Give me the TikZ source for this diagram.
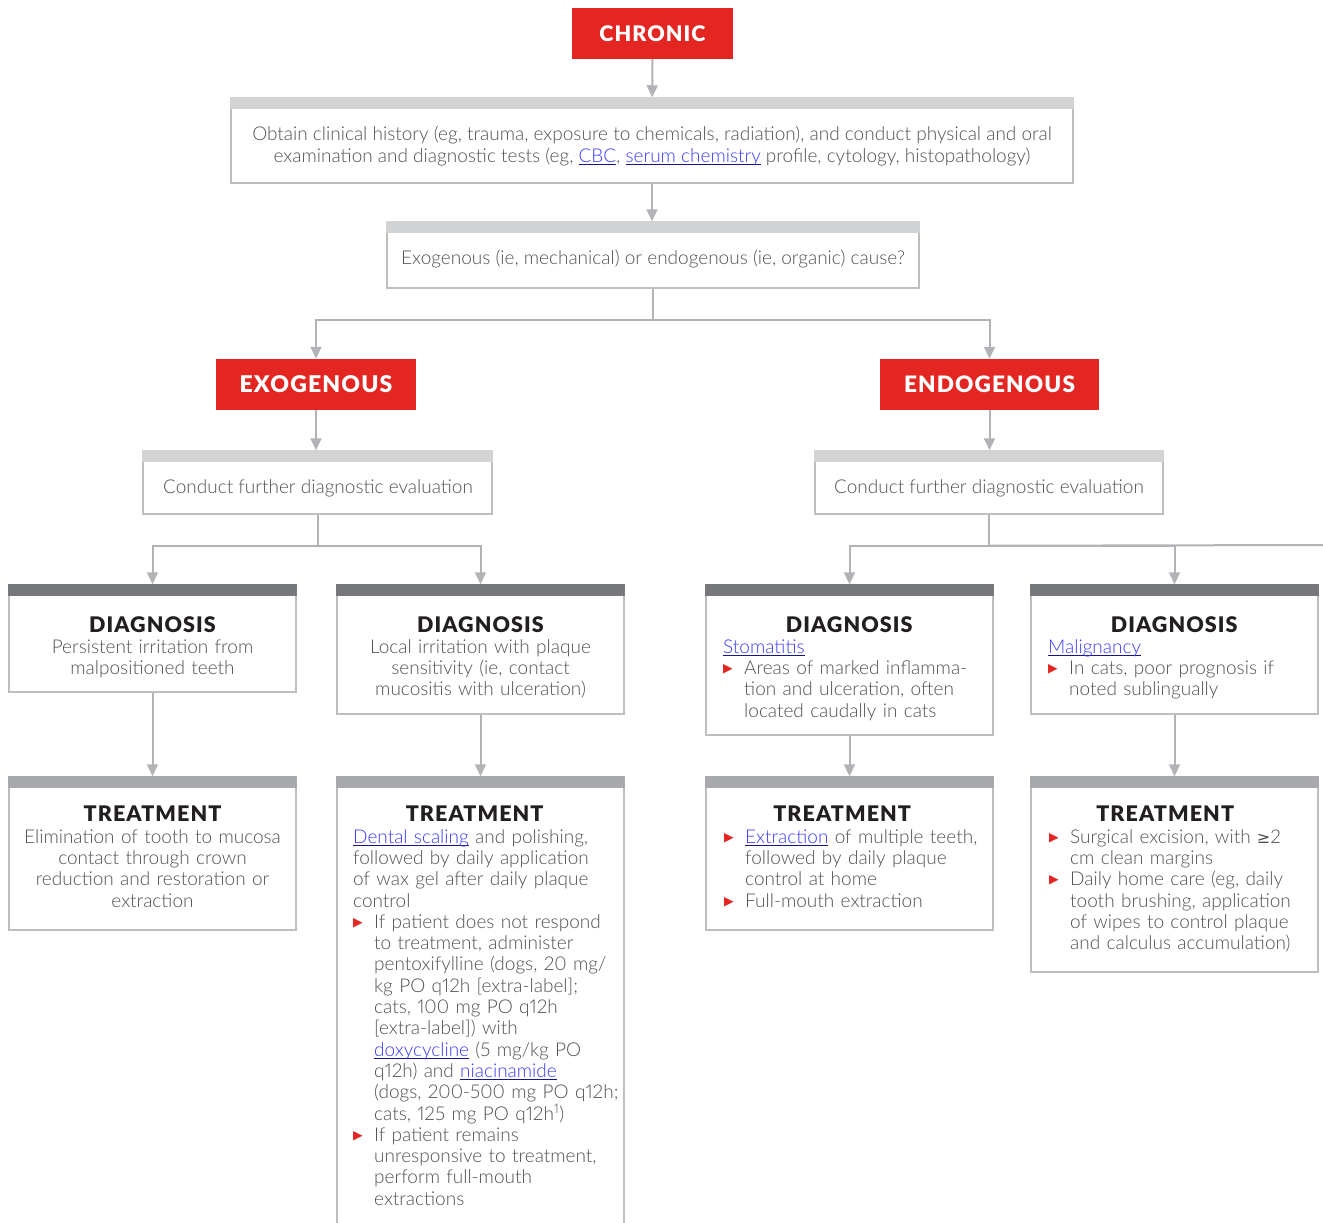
\documentclass[tikz,border=0pt]{standalone}
\usepackage{fontspec}
\usepackage{xcolor}
\usetikzlibrary{arrows.meta}

\IfFontExistsTF{Lato Light}{\setmainfont{Lato Light}[Numbers=Proportional]}{\setmainfont{Lato}[Numbers=Proportional]}
\IfFontExistsTF{Lato Black}{\newfontfamily\headfont{Lato Black}[LetterSpace=5]}{\newfontfamily\headfontX{Lato}[LetterSpace=5]\newcommand\headfont{\headfontX\bfseries}}
\newfontfamily\symfont{DejaVu Sans}

\definecolor{chronred}{RGB}{228,38,34}
\definecolor{textgray}{RGB}{80,81,83}
\definecolor{headblack}{RGB}{35,31,32}
\definecolor{arrowgray}{RGB}{177,179,182}
\definecolor{boxline}{RGB}{188,190,192}
\definecolor{bandlight}{RGB}{209,211,212}
\definecolor{banddark}{RGB}{119,120,123}
\definecolor{bandmid}{RGB}{167,169,172}
\definecolor{linkblue}{RGB}{60,60,255}
\definecolor{lineblue}{RGB}{20,20,140}

\newcommand\lnk[1]{\leavevmode{\setbox0\hbox{{\color{linkblue}#1}}\rlap{{\color{lineblue}\rule[-3pt]{\wd0}{1pt}}}\box0}}
\newcommand\bul{{\color{chronred}\symfont\fontsize{12.5}{12.5}\selectfont\raisebox{2pt}{▶}}}
\newcommand\bitem[1]{\par\noindent\makebox[21pt][l]{\bul}#1\par}
\newcommand\nl{\\\hspace*{21pt}}
\newcommand\hd[2][\linewidth]{\makebox[#1][c]{\headfont\fontsize{21.5}{21.5}\selectfont\color{headblack}#2}\par}

\begin{document}
\begin{tikzpicture}[x=1pt,y=-1pt,
    redbox/.style={fill=chronred,text=white,inner sep=0,font=\headfont\fontsize{23}{23}\selectfont},
    box/.style={draw=boxline,line width=1.5pt,fill=white,inner sep=0},
    txt/.style={inner sep=0,text=textgray,font=\fontsize{19}{21.3}\selectfont},
    arr/.style={draw=arrowgray,line width=2pt,-{Triangle[length=12pt,width=11pt]}},
    ln/.style={draw=arrowgray,line width=2pt}]

    \useasboundingbox (0,0) rectangle (1323,1223);

    % top of the chart
    \node[redbox,minimum width=161,minimum height=51,font=\headfont\fontsize{21.5}{21.5}\selectfont,text height=15.4,text depth=-4] (chronic) at (652.5,33.5) {CHRONIC};
    \node[box,minimum width=842,minimum height=85] (hist) at (652,140.5) {};
    \node[box,minimum width=532,minimum height=66] (cause) at (653,255) {};
    \fill[bandlight] (hist.north west) rectangle ([yshift=-12pt]hist.north east);
    \fill[bandlight] (cause.north west) rectangle ([yshift=-12pt]cause.north east);
    \node[txt,align=center] (histtext) at (652,146) {Obtain clinical history (eg, trauma, exposure to chemicals, radiation), and conduct physical and oral\\examination and diagnostic tests (eg, \lnk{CBC}, \lnk{serum chemistry} profile, cytology, histopathology)};
    \node[txt] (causetext) at (653,259) {Exogenous (ie, mechanical) or endogenous (ie, organic) cause?};

    % the two branches
    \node[redbox,minimum width=200,minimum height=51,text height=16.5,text depth=-3] (exo) at (316,384.5) {EXOGENOUS};
    \node[redbox,minimum width=219,minimum height=51,text height=16.5,text depth=-3,font=\headfont\fontsize{22.6}{22.6}\selectfont] (endo) at (989.5,384.5) {ENDOGENOUS};
    \node[box,minimum width=349,minimum height=63] (exoeval) at (317.5,482.5) {};
    \node[box,minimum width=348,minimum height=63] (endoeval) at (989,482.5) {};
    \fill[bandlight] (exoeval.north west) rectangle ([yshift=-12pt]exoeval.north east);
    \fill[bandlight] (endoeval.north west) rectangle ([yshift=-12pt]endoeval.north east);
    \node[txt] (exoevaltext) at (318,488) {Conduct further diagnostic evaluation};
    \node[txt] (endoevaltext) at (989,488) {Conduct further diagnostic evaluation};

    % diagnosis boxes
    \node[box,minimum width=287,minimum height=107] (dx1) at (152.5,638.5) {};
    \node[box,minimum width=287,minimum height=129] (dx2) at (480.5,649.5) {};
    \node[box,minimum width=287,minimum height=150] (dx3) at (849.5,660) {};
    \node[box,minimum width=287,minimum height=129] (dx4) at (1174.5,649.5) {};
    \foreach \b in {dx1,dx2,dx3,dx4}
        \fill[banddark] (\b.north west) rectangle ([yshift=-12pt]\b.north east);

    % treatment boxes
    \node[box,minimum width=287,minimum height=153] (tx1) at (152.5,853.5) {};
    \node[box,minimum width=287,minimum height=453] (tx2) at (480.5,1003.5) {};
    \node[box,minimum width=287,minimum height=153] (tx3) at (849.5,853.5) {};
    \node[box,minimum width=287,minimum height=195] (tx4) at (1174.5,874.5) {};
    \foreach \b in {tx1,tx2,tx3,tx4}
        \fill[bandmid] (\b.north west) rectangle ([yshift=-12pt]\b.north east);

    % texts of the boxes
    \node[txt,text width=285,align=center,anchor=north] (dx1text) at (152.5,616) {\hd{DIAGNOSIS}Persistent irritation from\\malpositioned teeth};
    \node[txt,text width=285,align=center,anchor=north] (dx2text) at (480.5,616) {\hd{DIAGNOSIS}Local irritation with plaque\\sensitivity (ie, contact\\mucositis with ulceration)};
    \node[txt,text width=268,anchor=north west] (dx3text) at (723,616) {\hd[252pt]{DIAGNOSIS}\lnk{Stomatitis}\bitem{Areas of marked inflamma-\nl tion and ulceration, often\nl located caudally in cats}};
    \node[txt,text width=268,anchor=north west] (dx4text) at (1048,616) {\hd[252pt]{DIAGNOSIS}\lnk{Malignancy}\bitem{In cats, poor prognosis if\nl noted sublingually}};

    \node[txt,text width=285,align=center,anchor=north] (tx1text) at (152.5,806) {\hd{TREATMENT}Elimination of tooth to mucosa\\contact through crown\\reduction and restoration or\\extraction};
    \node[txt,text width=268,anchor=north west] (tx2text) at (353,806) {\hd[243pt]{TREATMENT}\lnk{Dental scaling} and polishing,\\followed by daily application\\of wax gel after daily plaque\\control
        \bitem{If patient does not respond\nl to treatment, administer\nl pentoxifylline (dogs, 20 mg/\nl kg PO q12h [extra-label];\nl cats, 100 mg PO q12h\nl {}[extra-label]) with\nl \lnk{doxycycline} (5 mg/kg PO\nl q12h) and \lnk{niacinamide}\nl (dogs, 200-500 mg PO q12h;\nl cats, 125 mg PO q12h\textsuperscript{1})}
        \bitem{If patient remains\nl unresponsive to treatment,\nl perform full-mouth\nl extractions}};
    \node[txt,text width=268,anchor=north west] (tx3text) at (724,806) {\hd[236pt]{TREATMENT}\bitem{\lnk{Extraction} of multiple teeth,\nl followed by daily plaque\nl control at home}\bitem{Full-mouth extraction}};
    \node[txt,text width=268,anchor=north west] (tx4text) at (1049,806) {\hd[232pt]{TREATMENT}\bitem{Surgical excision, with {\symfont\fontsize{16}{16}\selectfont ≥}2\nl cm clean margins}\bitem{Daily home care (eg, daily\nl tooth brushing, application\nl of wipes to control plaque\nl and calculus accumulation)}};

    % connectors
    \begin{scope}[every edge/.style={arr}]
        \path (chronic) edge (hist);
        \path (hist.south) edge (hist.south |- cause.north);
        \path (exo.south) edge (exo.south |- exoeval.north);
        \path (endo.south) edge (endo.south |- endoeval.north);
        \path (dx1) edge (tx1);
        \path (dx2) edge (tx2);
        \path (dx3) edge (tx3);
        \path (dx4) edge (tx4);
    \end{scope}
    \draw[ln] (cause.south) -- ++(0,31) coordinate (causesplit);
    \draw[arr] (causesplit) -| (exo.north);
    \draw[arr] (causesplit) -| (endo.north);
    \draw[ln] (exoeval.south) -- ++(0,31) coordinate (exosplit);
    \draw[arr] (exosplit) -| (dx1.north);
    \draw[arr] (exosplit) -| (dx2.north);
    \draw[ln] (endoeval.south) -- ++(0,31) coordinate (endosplit);
    \draw[arr] (endosplit) -| (dx3.north);
    \draw[arr] (endosplit) -| (dx4.north);
    \coordinate (rightedge) at (1323,545);
    \draw[ln] (endosplit) -- (rightedge);
\end{tikzpicture}
\end{document}
